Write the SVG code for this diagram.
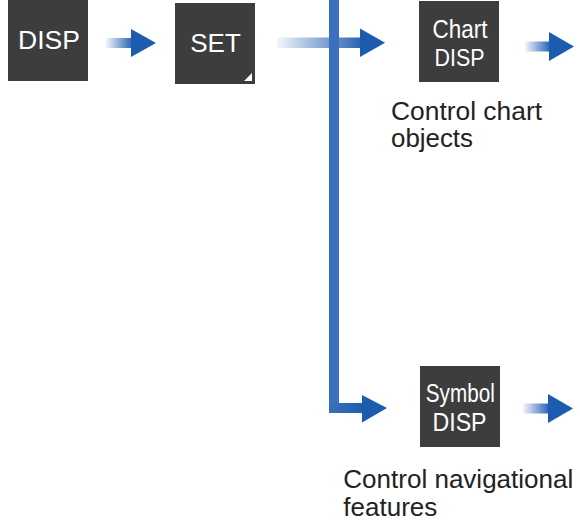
<svg xmlns="http://www.w3.org/2000/svg" width="580" height="521" viewBox="0 0 580 521">
<defs>
<linearGradient id="fade" x1="0" y1="0" x2="1" y2="0">
<stop offset="0" stop-color="#f4f6fb"/>
<stop offset="1" stop-color="#2a63b5"/>
</linearGradient>
<linearGradient id="solid" x1="0" y1="0" x2="1" y2="0">
<stop offset="0" stop-color="#3a70bd"/>
<stop offset="1" stop-color="#1f5eb0"/>
</linearGradient>
<style>
.box{fill:#3d3d3d}
.bt{fill:#ffffff;font-family:"Liberation Sans",Arial,sans-serif;text-anchor:middle}
.lbl{fill:#222222;font-family:"Liberation Sans",Arial,sans-serif;font-size:25px}
.head{fill:#1b5caf}
.vline{fill:#3a70bd}
</style>
</defs>
<g id="connectors">
<rect x="106" y="38" width="26" height="10" fill="url(#fade)"/>
<polygon class="head" points="131,29 156,43 131,57"/>
<rect x="277" y="37.5" width="84" height="10.5" fill="url(#fade)"/>
<polygon class="head" points="360,28.5 385,42.75 360,57"/>
<rect class="vline" x="329" y="0" width="10" height="413"/>
<rect x="329" y="403" width="34" height="10" fill="url(#solid)"/>
<polygon class="head" points="362,395 387,408 362,422.5"/>
<rect x="525" y="41.5" width="25" height="10" fill="url(#fade)"/>
<polygon class="head" points="549,32 574,46.5 549,61"/>
<rect x="523" y="403.5" width="26" height="10" fill="url(#fade)"/>
<polygon class="head" points="548,394 573,408.5 548,423"/>
</g>
<g id="node-disp">
<rect class="box" x="8" y="0" width="80" height="81"/>
<text class="bt" x="49" y="48.5" font-size="26.5">DISP</text>
</g>
<g id="node-set">
<rect class="box" x="175" y="3" width="80" height="81"/>
<polygon fill="#ffffff" points="252,73 252,81 244,81"/>
<text class="bt" x="215.5" y="52" font-size="26">SET</text>
</g>
<g id="node-chart">
<rect class="box" x="419" y="1" width="80" height="81"/>
<text class="bt" x="460" y="37.5" font-size="25" textLength="55" lengthAdjust="spacingAndGlyphs">Chart</text>
<text class="bt" x="459.5" y="65.8" font-size="24" textLength="50" lengthAdjust="spacingAndGlyphs">DISP</text>
</g>
<g id="node-symbol">
<rect class="box" x="420" y="366" width="80" height="81"/>
<text class="bt" x="460.3" y="402" font-size="25" textLength="69" lengthAdjust="spacingAndGlyphs">Symbol</text>
<text class="bt" x="459.5" y="430.5" font-size="25" textLength="54" lengthAdjust="spacingAndGlyphs">DISP</text>
</g>
<g id="label-chart">
<text class="lbl" x="391" y="120" textLength="151" lengthAdjust="spacingAndGlyphs">Control chart</text>
<text class="lbl" x="391" y="146.5" textLength="82" lengthAdjust="spacingAndGlyphs">objects</text>
</g>
<g id="label-symbol">
<text class="lbl" x="343.3" y="488.3" textLength="230" lengthAdjust="spacingAndGlyphs">Control navigational</text>
<text class="lbl" x="343.3" y="516" textLength="94" lengthAdjust="spacingAndGlyphs">features</text>
</g>
</svg>
